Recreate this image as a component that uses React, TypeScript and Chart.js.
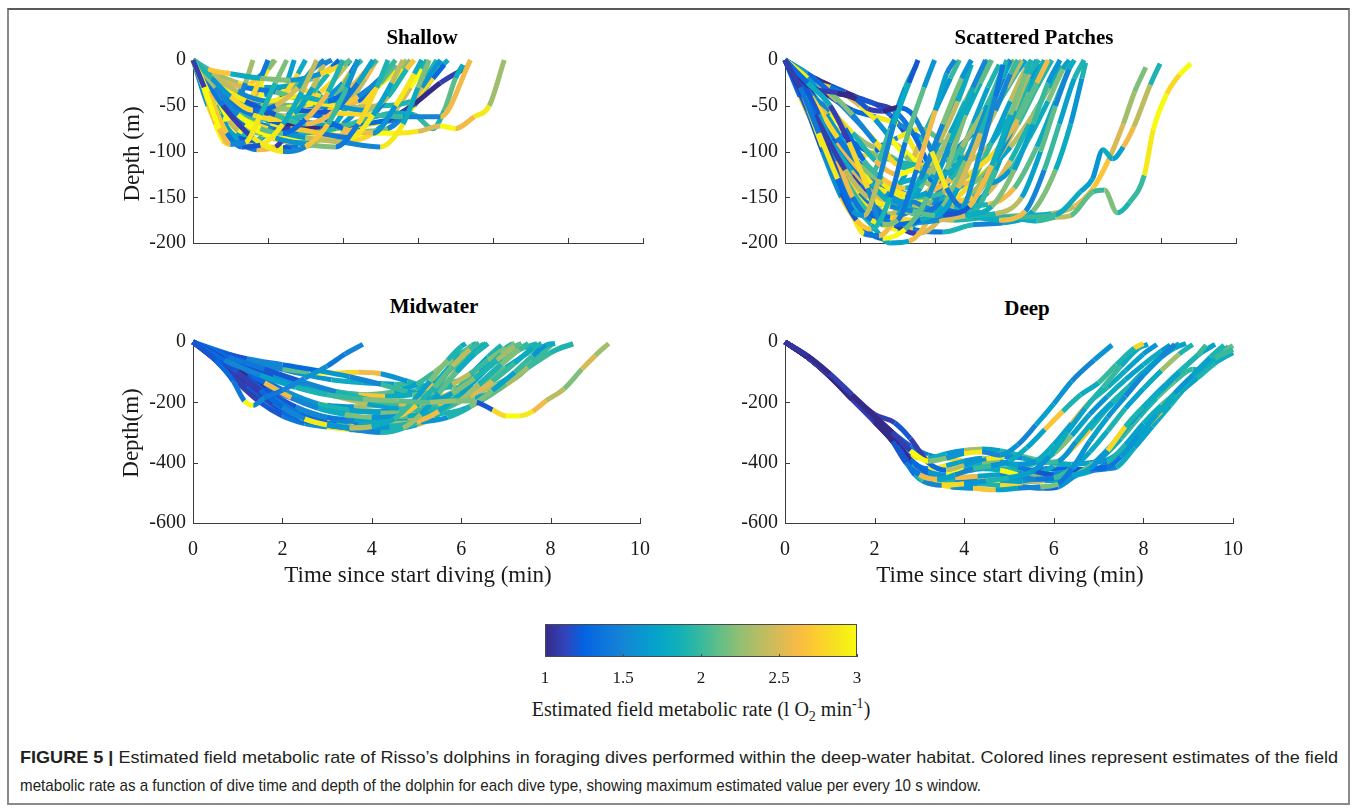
import React, { useEffect, useRef } from 'react';
import { Chart, registerables } from 'chart.js';

Chart.register(...registerables);

// ---------- colour map (parula) ----------
const PARULA: number[][] = [
  [53, 42, 135], [50, 67, 186], [3, 99, 225], [13, 117, 220], [20, 133, 212],
  [9, 152, 209], [6, 167, 198], [21, 177, 180], [56, 185, 158], [101, 190, 134],
  [146, 191, 115], [183, 189, 100], [217, 186, 86], [248, 187, 68], [252, 206, 46],
  [245, 228, 29], [249, 251, 14],
];
const RATE_MIN = 1;
const RATE_MAX = 3;
const colorbarTicks = [1, 1.5, 2, 2.5, 3];

function parula(v: number): string {
  const f = Math.max(0, Math.min(1, (v - RATE_MIN) / (RATE_MAX - RATE_MIN)));
  const p = f * (PARULA.length - 1);
  const i = Math.floor(p);
  const j = Math.min(i + 1, PARULA.length - 1);
  const k = p - i;
  const c = PARULA[i].map((a, n) => Math.round(a + (PARULA[j][n] - a) * k));
  return `rgb(${c[0]},${c[1]},${c[2]})`;
}

// ---------- data: each dive = [t0,d0,t1,d1,...]; rates = one value per segment ----------
const shallowDives: number[][] = [
  [0, 0, 0.15, -30, 0.35, -75, 0.5, -92, 0.7, -90, 0.9, -60, 1.1, -25, 1.25, 0],
  [0, 0, 0.2, -35, 0.45, -80, 0.65, -95, 0.9, -93, 1.2, -70, 1.45, -35, 1.65, 0],
  [0, 0, 0.25, -20, 0.5, -40, 0.8, -55, 1.1, -50, 1.4, -30, 1.6, -10, 1.75, 0],
  [0, 0, 0.3, -30, 0.6, -60, 0.9, -75, 1.2, -80, 1.5, -65, 1.8, -35, 2.0, 0],
  [0, 0, 0.4, -50, 0.8, -85, 1.2, -100, 1.5, -95, 1.8, -70, 2.05, -30, 2.2, 0],
  [0, 0, 0.2, -10, 0.5, -15, 0.9, -20, 1.3, -22, 1.7, -15, 2.0, -5, 2.1, 0],
  [0, 0, 0.3, -25, 0.7, -45, 1.1, -60, 1.5, -70, 1.9, -55, 2.2, -25, 2.4, 0],
  [0, 0, 0.35, -45, 0.7, -70, 1.1, -85, 1.5, -92, 1.9, -95, 2.2, -70, 2.45, -30, 2.6, 0],
  [0, 0, 0.5, -60, 0.9, -80, 1.3, -75, 1.7, -80, 2.1, -85, 2.4, -60, 2.65, -25, 2.8, 0],
  [0, 0, 0.25, -15, 0.6, -35, 1.0, -45, 1.4, -40, 1.8, -45, 2.1, -30, 2.35, -8, 2.45, 0],
  [0, 0, 0.4, -40, 0.8, -60, 1.2, -65, 1.6, -60, 2.0, -75, 2.4, -80, 2.7, -50, 2.95, -15, 3.05, 0],
  [0, 0, 0.5, -55, 1.0, -75, 1.5, -85, 2.0, -90, 2.5, -95, 2.8, -70, 3.0, -30, 3.15, 0],
  [0, 0, 0.15, -15, 0.35, -40, 0.55, -55, 0.75, -45, 0.9, -20, 1.0, 0],
  [0, 0, 0.1, -15, 0.25, -45, 0.4, -65, 0.55, -55, 0.7, -25, 0.8, 0],
  [0, 0, 0.3, -30, 0.6, -55, 1.0, -65, 1.35, -58, 1.6, -30, 1.75, -5, 1.85, 0],
  [0, 0, 0.3, -20, 0.7, -30, 1.1, -35, 1.5, -45, 1.9, -50, 2.3, -55, 2.6, -40, 2.85, -10, 2.95, 0],
  [0, 0, 0.4, -35, 0.9, -50, 1.4, -55, 1.9, -58, 2.4, -60, 2.8, -62, 3.3, -62, 3.7, 0],
  [0, 0, 0.3, -40, 0.7, -70, 1.2, -85, 1.7, -85, 2.2, -80, 2.7, -80, 3.0, -78, 3.3, -72, 3.5, -75, 3.75, -62, 3.95, -50, 4.15, 0],
  [0, 0, 0.4, -40, 0.9, -70, 1.4, -80, 1.9, -75, 2.3, -65, 2.7, -58, 2.95, -60, 3.2, -75, 3.35, -55, 3.5, -20, 3.6, -5],
  [0, 0, 0.3, -30, 0.7, -55, 1.2, -70, 1.7, -75, 2.2, -70, 2.6, -65, 2.95, -48, 3.3, -25, 3.65, -8],
  [0, 0, 0.5, -45, 1.0, -65, 1.5, -70, 2.0, -72, 2.5, -68, 2.8, -60, 3.05, -30, 3.3, 0],
  [0, 0, 0.2, -25, 0.45, -50, 0.7, -62, 0.95, -60, 1.2, -40, 1.4, -15, 1.5, 0],
  [0, 0, 0.35, -60, 0.6, -88, 0.85, -98, 1.1, -95, 1.35, -65, 1.6, -30, 1.75, 0],
  [0, 0, 0.25, -30, 0.55, -50, 0.9, -58, 1.25, -52, 1.6, -48, 1.9, -40, 2.1, -15, 2.2, 0],
  [0, 0, 0.45, -40, 0.9, -55, 1.35, -62, 1.8, -55, 2.2, -40, 2.5, -20, 2.7, 0],
  [0, 0, 0.3, -15, 0.6, -25, 0.95, -30, 1.3, -28, 1.6, -20, 1.85, -8, 1.95, 0],
  [0, 0, 0.45, -55, 0.9, -80, 1.35, -90, 1.8, -85, 2.2, -75, 2.55, -45, 2.8, -10, 2.9, 0],
  [0, 0, 0.2, -40, 0.4, -70, 0.6, -85, 0.85, -88, 1.05, -60, 1.25, -25, 1.35, 0],
  [0, 0, 0.5, -35, 1.0, -48, 1.5, -50, 2.0, -52, 2.5, -50, 2.9, -45, 3.2, -20, 3.35, -5],
  [0, 0, 0.35, -35, 0.75, -55, 1.2, -65, 1.7, -70, 2.2, -78, 2.6, -75, 2.9, -50, 3.1, -20, 3.25, 0],
  [0, 0, 0.1, -20, 0.2, -45, 0.3, -70, 0.4, -88, 0.5, -92, 0.62, -80, 0.75, -55, 0.88, -30, 1.0, -10, 1.08, 0],
  [0, 0, 0.15, -25, 0.3, -50, 0.45, -72, 0.6, -85, 0.8, -90, 1.0, -80, 1.2, -65, 1.4, -50, 1.6, -35, 1.8, -15, 1.95, 0],
  [0, 0, 0.2, -15, 0.4, -30, 0.6, -42, 0.8, -48, 1.0, -45, 1.2, -50, 1.4, -58, 1.6, -55, 1.8, -40, 2.0, -25, 2.15, -8, 2.25, 0],
  [0, 0, 0.25, -40, 0.5, -65, 0.75, -75, 1.0, -72, 1.25, -78, 1.5, -85, 1.75, -82, 2.0, -70, 2.25, -50, 2.5, -25, 2.7, -5],
  [0, 0, 0.2, -20, 0.45, -35, 0.7, -40, 0.95, -38, 1.2, -30, 1.45, -32, 1.7, -40, 1.95, -48, 2.2, -45, 2.45, -30, 2.7, -12, 2.85, 0],
  [0, 0, 0.2, -50, 0.4, -80, 0.6, -92, 0.8, -90, 1.0, -82, 1.2, -88, 1.4, -95, 1.6, -92, 1.85, -75, 2.1, -45, 2.3, -20, 2.45, 0],
  [0, 0, 0.3, -35, 0.6, -55, 0.9, -62, 1.2, -70, 1.5, -75, 1.8, -72, 2.1, -78, 2.4, -80, 2.7, -70, 2.95, -50, 3.15, -25, 3.3, -8, 3.4, 0],
  [0, 0, 0.1, -10, 0.25, -22, 0.4, -30, 0.55, -35, 0.7, -30, 0.85, -20, 1.0, -10, 1.1, 0],
  [0, 0, 0.3, -45, 0.6, -78, 0.9, -92, 1.2, -96, 1.5, -90, 1.8, -85, 2.1, -88, 2.4, -80, 2.7, -55, 2.9, -30, 3.05, -10, 3.12, 0],
  [0, 0, 0.15, -20, 0.3, -40, 0.5, -55, 0.7, -62, 0.9, -58, 1.1, -45, 1.3, -40, 1.5, -45, 1.7, -35, 1.9, -20, 2.05, -5, 2.1, 0],
];
const shallowRates: number[][] = [
  [1.1, 3, 2.6, 1.5, 2.9, 1.9, 2.2],
  [3, 2.7, 1.4, 1.2, 2.9, 1.8, 2.4],
  [1.9, 1.6, 2.8, 1.3, 2.5, 1.7, 1.5],
  [2.3, 1.5, 3, 2.1, 1.3, 2.6, 1.9],
  [1.4, 1.1, 2.9, 1.5, 2.7, 2.0, 1.6],
  [2.0, 2.7, 1.8, 2.2, 1.6, 2.8, 2.1],
  [1.5, 2.9, 1.2, 2.0, 2.6, 1.4, 1.7],
  [2.6, 1.3, 3, 1.6, 2.2, 1.4, 2.8, 1.9],
  [2.9, 2.2, 1.1, 2.7, 1.4, 2.9, 1.7, 2.4],
  [1.7, 2.4, 1.5, 2.9, 1.8, 1.3, 2.6, 2.0],
  [2.2, 1.4, 2.8, 1.9, 1.3, 2.6, 1.6, 2.9, 1.8],
  [1.2, 2.8, 1.6, 2.4, 1.5, 2.9, 1.8, 2.2],
  [3, 1.9, 2.5, 1.6, 2.8, 1.4],
  [1.0, 2.6, 1.8, 3, 1.5, 2.3],
  [2.5, 1.3, 2.0, 2.8, 1.7, 2.4, 1.5],
  [1.8, 2.5, 1.4, 2.1, 2.9, 1.6, 2.3, 1.9, 2.7],
  [2.7, 1.6, 2.3, 1.2, 2.8, 2.0, 1.5, 2.6],
  [2.4, 1.5, 2.9, 3, 2.6, 3, 2.9, 2.5, 3, 2.6, 2.9, 2.3],
  [1.6, 2.2, 1.4, 1.9, 2.0, 1.9, 1.8, 2.0, 1.9, 2.1, 1.8],
  [1.3, 1.1, 1.2, 1.0, 1.1, 1.3, 1.1, 1.0, 1.1],
  [2.8, 1.5, 2.2, 1.7, 2.9, 1.4, 2.5, 1.6],
  [1.3, 2.7, 1.9, 2.4, 1.2, 2.8, 1.8],
  [2.9, 1.7, 1.4, 2.6, 1.1, 2.2, 2.7],
  [1.9, 2.8, 1.5, 2.3, 2.9, 1.6, 2.1, 1.4],
  [2.6, 1.9, 2.4, 1.3, 2.7, 1.5, 2.0],
  [1.5, 2.3, 2.9, 1.7, 2.1, 2.6, 1.3],
  [2.1, 1.2, 2.7, 1.8, 2.5, 1.4, 2.9, 2.2],
  [2.8, 2.3, 1.6, 1.2, 2.0, 2.9, 1.7],
  [1.6, 2.9, 2.1, 1.5, 2.4, 1.9, 2.8, 1.3],
  [2.3, 1.8, 2.6, 1.4, 2.9, 2.2, 1.5, 2.7, 1.9],
  [3, 2.9, 2.6, 3, 2.8, 1.7, 3, 2.5, 2.9, 2.2],
  [1.3, 2.9, 1.8, 3, 2.4, 1.6, 2.9, 1.4, 2.7, 1.9, 3],
  [2.8, 2.2, 1.5, 3, 2.6, 1.9, 1.2, 2.9, 2.3, 1.6, 2.7, 2.0],
  [2.0, 3, 2.5, 1.4, 2.9, 1.8, 2.4, 3, 1.6, 2.8, 2.1],
  [2.9, 1.7, 2.4, 3, 1.5, 2.2, 2.8, 1.9, 2.6, 1.3, 2.9, 2.4],
  [1.6, 2.9, 3, 2.5, 1.8, 2.7, 1.4, 2.2, 2.9, 1.7, 2.4, 2.6],
  [2.5, 1.9, 2.9, 1.5, 2.3, 3, 1.7, 2.6, 1.3, 2.9, 2.0, 2.7, 1.8],
  [2.1, 1.6, 2.9, 2.3, 1.8, 2.7, 1.5, 2.4],
  [2.9, 2.4, 1.9, 3, 1.2, 2.6, 2.0, 2.8, 1.7, 2.5, 3, 1.9],
  [1.5, 2.3, 3, 1.8, 2.6, 1.2, 2.9, 2.1, 1.7, 2.8, 2.4, 1.6],
];

const scatteredDives: number[][] = [
  [0, 0, 0.2, -30, 0.45, -80, 0.7, -130, 0.9, -165, 1.05, -170, 1.25, -130, 1.45, -70, 1.65, -25, 1.77, 0],
  [0, 0, 0.25, -40, 0.5, -95, 0.75, -145, 0.95, -175, 1.15, -185, 1.4, -150, 1.6, -90, 1.85, -30, 1.99, 0],
  [0, 0, 0.3, -25, 0.6, -50, 0.85, -90, 1.1, -140, 1.3, -180, 1.5, -175, 1.75, -120, 2.0, -55, 2.15, -15, 2.26, 0],
  [0, 0, 0.35, -30, 0.7, -36, 0.95, -43, 1.1, -53, 1.3, -56, 1.5, -52, 1.7, -60, 1.95, -100, 2.15, -140, 2.35, -160, 2.6, -100, 2.8, -40, 2.9, -5],
  [0, 0, 0.3, -55, 0.6, -110, 0.85, -160, 1.05, -190, 1.25, -192, 1.5, -170, 1.8, -130, 2.1, -70, 2.35, -20, 2.48, 0],
  [0, 0, 0.25, -45, 0.5, -100, 0.75, -150, 1.0, -180, 1.3, -195, 1.6, -185, 1.9, -150, 2.2, -90, 2.5, -30, 2.67, 0],
  [0, 0, 0.3, -20, 0.55, -45, 0.8, -75, 1.05, -110, 1.3, -130, 1.6, -140, 1.9, -125, 2.2, -80, 2.5, -35, 2.7, 0],
  [0, 0, 0.4, -60, 0.8, -120, 1.1, -150, 1.4, -160, 1.7, -165, 2.0, -170, 2.3, -140, 2.6, -80, 2.85, -25, 2.95, 0],
  [0, 0, 0.2, -20, 0.45, -60, 0.7, -110, 0.9, -150, 1.15, -175, 1.45, -180, 1.8, -175, 2.1, -160, 2.4, -110, 2.7, -50, 2.9, -10, 3.0, 0],
  [0, 0, 0.35, -40, 0.7, -85, 1.0, -115, 1.3, -135, 1.6, -150, 1.9, -145, 2.2, -130, 2.5, -100, 2.8, -55, 3.0, -15, 3.1, 0],
  [0, 0, 0.3, -35, 0.6, -55, 0.9, -80, 1.2, -110, 1.5, -125, 1.8, -118, 2.1, -125, 2.4, -105, 2.7, -70, 2.95, -30, 3.15, 0],
  [0, 0, 0.45, -70, 0.8, -130, 1.1, -165, 1.4, -172, 1.75, -175, 2.1, -170, 2.45, -160, 2.75, -115, 3.0, -60, 3.2, -15, 3.28, 0],
  [0, 0, 0.25, -30, 0.55, -60, 0.85, -100, 1.15, -135, 1.45, -160, 1.8, -168, 2.15, -155, 2.5, -150, 2.8, -110, 3.05, -55, 3.25, -15, 3.38, 0],
  [0, 0, 0.35, -45, 0.7, -90, 1.05, -125, 1.4, -140, 1.75, -150, 2.1, -145, 2.45, -125, 2.8, -100, 3.1, -65, 3.35, -25, 3.5, 0],
  [0, 0, 0.3, -50, 0.65, -100, 1.0, -145, 1.35, -170, 1.7, -178, 2.05, -175, 2.4, -170, 2.75, -160, 3.05, -120, 3.3, -70, 3.5, -25, 3.66, 0],
  [0, 0, 0.4, -50, 0.8, -95, 1.2, -130, 1.6, -150, 2.0, -165, 2.4, -170, 2.8, -168, 3.15, -150, 3.4, -100, 3.6, -50, 3.78, -10, 3.85, 0],
  [0, 0, 0.3, -40, 0.65, -85, 1.0, -120, 1.35, -145, 1.7, -158, 2.05, -162, 2.45, -170, 2.85, -175, 3.2, -165, 3.45, -120, 3.65, -70, 3.85, -20, 3.98, 0],
  [0, 0, 0.4, -45, 0.8, -100, 1.2, -140, 1.6, -160, 2.0, -168, 2.4, -165, 3.0, -172, 3.6, -169, 3.93, -144, 4.09, -130, 4.23, -98, 4.36, -108, 4.5, -95, 4.64, -73, 4.86, -27, 4.99, -4],
  [0, 0, 0.35, -40, 0.7, -90, 1.05, -130, 1.4, -155, 1.8, -165, 2.2, -172, 2.6, -170, 3.0, -172, 3.35, -176, 3.6, -172, 3.8, -170, 4.1, -144, 4.25, -142, 4.42, -167, 4.58, -156, 4.78, -126, 4.9, -76, 5.08, -37, 5.25, -16, 5.4, -4],
  [0, 0, 0.45, -60, 0.9, -120, 1.35, -155, 1.8, -170, 2.25, -175, 2.7, -172, 3.15, -170, 3.55, -168, 3.85, -160, 4.1, -140, 4.3, -110, 4.5, -70, 4.65, -35, 4.8, -8],
  [0, 0, 0.15, -20, 0.35, -55, 0.55, -90, 0.75, -120, 0.95, -140, 1.2, -120, 1.4, -75, 1.6, -30, 1.75, -5],
  [0, 0, 0.3, -15, 0.6, -35, 0.9, -60, 1.2, -90, 1.5, -115, 1.8, -120, 2.05, -90, 2.3, -45, 2.48, -5],
  [0, 0, 0.35, -60, 0.65, -115, 0.9, -155, 1.15, -180, 1.4, -200, 1.65, -198, 1.9, -175, 2.15, -120, 2.4, -60, 2.6, -15, 2.7, 0],
  [0, 0, 0.3, -45, 0.6, -95, 0.9, -140, 1.15, -165, 1.45, -180, 1.75, -190, 2.05, -175, 2.35, -130, 2.65, -70, 2.9, -20, 3.0, 0],
  [0, 0, 0.25, -35, 0.55, -70, 0.85, -105, 1.15, -125, 1.45, -140, 1.75, -150, 2.05, -130, 2.35, -95, 2.65, -55, 2.9, -15, 3.05, 0],
  [0, 0, 0.4, -50, 0.75, -80, 1.1, -100, 1.45, -110, 1.8, -115, 2.15, -105, 2.5, -80, 2.85, -45, 3.1, -12, 3.2, 0],
  [0, 0, 0.3, -30, 0.65, -75, 1.0, -120, 1.3, -150, 1.6, -160, 1.95, -150, 2.3, -155, 2.65, -130, 3.0, -80, 3.25, -35, 3.45, 0],
  [0, 0, 0.35, -20, 0.7, -45, 1.05, -75, 1.4, -105, 1.75, -120, 2.1, -130, 2.45, -135, 2.8, -110, 3.1, -70, 3.35, -30, 3.55, 0],
  [0, 0, 0.25, -25, 0.55, -65, 0.85, -110, 1.15, -145, 1.5, -162, 1.85, -168, 2.25, -160, 2.7, -158, 3.05, -140, 3.35, -95, 3.6, -45, 3.8, -5],
  [0, 0, 0.45, -65, 0.9, -125, 1.3, -170, 1.7, -185, 2.1, -188, 2.5, -180, 2.9, -178, 3.3, -165, 3.6, -120, 3.8, -70, 3.95, -20, 4.0, -3],
  [0, 0, 0.3, -25, 0.6, -35, 0.9, -40, 1.2, -48, 1.45, -55, 1.7, -80, 1.95, -120, 2.2, -150, 2.5, -165, 2.8, -120, 3.05, -65, 3.25, -20, 3.35, 0],
  [0, 0, 0.2, -35, 0.45, -85, 0.7, -135, 0.95, -165, 1.2, -170, 1.5, -165, 1.8, -140, 2.05, -90, 2.3, -40, 2.45, -5],
  [0, 0, 0.2, -15, 0.4, -25, 0.6, -30, 0.8, -38, 1.0, -50, 1.2, -65, 1.4, -85, 1.6, -105, 1.8, -120, 2.0, -110, 2.2, -80, 2.4, -45, 2.6, -15, 2.7, 0],
  [0, 0, 0.2, -25, 0.4, -50, 0.6, -75, 0.8, -95, 1.0, -105, 1.2, -100, 1.4, -90, 1.6, -100, 1.8, -115, 2.0, -120, 2.2, -95, 2.4, -60, 2.6, -25, 2.75, 0],
  [0, 0, 0.25, -35, 0.5, -70, 0.75, -100, 1.0, -125, 1.25, -140, 1.5, -135, 1.75, -130, 2.0, -140, 2.25, -150, 2.5, -130, 2.75, -90, 3.0, -45, 3.2, -10, 3.28, 0],
  [0, 0, 0.3, -30, 0.6, -60, 0.9, -80, 1.2, -95, 1.5, -85, 1.8, -75, 2.1, -90, 2.4, -110, 2.7, -95, 2.95, -65, 3.2, -30, 3.4, -5],
  [0, 0, 0.2, -40, 0.4, -75, 0.6, -105, 0.8, -130, 1.0, -150, 1.2, -160, 1.4, -150, 1.6, -125, 1.8, -90, 2.0, -55, 2.2, -20, 2.32, 0],
  [0, 0, 0.3, -20, 0.6, -40, 0.9, -55, 1.2, -62, 1.5, -70, 1.8, -85, 2.1, -105, 2.4, -125, 2.7, -135, 3.0, -120, 3.25, -85, 3.5, -45, 3.7, -10, 3.78, 0],
  [0, 0, 0.25, -45, 0.5, -90, 0.75, -130, 1.0, -160, 1.25, -178, 1.5, -185, 1.75, -178, 2.0, -160, 2.25, -120, 2.5, -70, 2.7, -30, 2.85, -5],
  [0, 0, 0.3, -50, 0.6, -95, 0.9, -135, 1.2, -160, 1.5, -170, 1.8, -160, 2.1, -150, 2.4, -155, 2.7, -145, 3.0, -110, 3.25, -70, 3.5, -30, 3.65, -5],
  [0, 0, 0.2, -10, 0.4, -20, 0.6, -28, 0.8, -35, 1.0, -42, 1.2, -48, 1.4, -60, 1.6, -80, 1.8, -110, 2.0, -140, 2.2, -160, 2.45, -165, 2.7, -140, 2.95, -90, 3.2, -40, 3.4, -5],
  [0, 0, 0.3, -40, 0.6, -80, 0.9, -115, 1.2, -140, 1.5, -155, 1.8, -158, 2.1, -150, 2.4, -135, 2.7, -120, 3.0, -95, 3.3, -60, 3.55, -25, 3.75, -3],
];
const scatteredRates: number[][] = [
  [1.1, 1.4, 2.9, 1.3, 1.6, 2.4, 1.5, 1.8, 1.2],
  [1.0, 2.9, 1.5, 1.2, 2.7, 1.9, 1.4, 2.1, 1.6],
  [1.3, 1.8, 1.1, 2.8, 1.5, 2.2, 1.4, 2.6, 1.7, 1.5, 2.0],
  [1.0, 1.1, 1.0, 1.2, 1.1, 1.0, 1.3, 1.5, 2.9, 1.4, 1.6, 1.5, 1.4],
  [1.2, 1.5, 1.1, 2.9, 1.4, 2.6, 1.8, 1.5, 2.2, 1.6],
  [1.4, 1.2, 1.6, 2.8, 1.3, 3.0, 2.1, 1.6, 1.8, 1.5],
  [2.9, 1.6, 2.5, 1.3, 2.0, 2.7, 1.9, 2.3, 1.7, 2.1],
  [1.3, 1.1, 2.4, 2.9, 1.5, 2.1, 1.7, 2.5, 1.9],
  [1.5, 1.2, 1.7, 2.6, 1.4, 2.9, 1.3, 1.8, 2.2, 1.6, 2.0, 1.5],
  [1.6, 2.8, 1.4, 2.2, 2.9, 1.7, 2.6, 1.9, 2.4, 1.5, 2.0, 1.8],
  [1.2, 1.5, 2.9, 1.9, 2.6, 3.0, 2.3, 1.8, 2.7, 2.0, 2.4, 1.7],
  [1.4, 1.1, 2.0, 1.3, 2.8, 1.5, 1.2, 2.6, 1.8, 2.2, 1.9, 1.6],
  [1.3, 2.5, 1.6, 2.9, 1.8, 2.2, 1.4, 2.7, 2.0, 1.7, 2.3, 1.9, 1.5],
  [1.7, 1.3, 2.6, 1.5, 2.9, 2.0, 2.4, 2.8, 2.5, 2.1, 2.6, 2.2],
  [1.5, 1.2, 2.8, 1.4, 2.1, 1.6, 2.5, 1.8, 2.2, 1.7, 2.0, 1.6, 1.9],
  [1.2, 1.6, 1.3, 2.7, 1.5, 1.2, 1.9, 2.4, 1.7, 2.1, 1.5, 1.8, 1.6],
  [1.4, 1.9, 1.2, 2.9, 1.6, 2.4, 1.3, 1.8, 2.6, 1.5, 2.0, 1.7, 1.9, 1.5],
  [1.3, 1.5, 1.2, 1.6, 1.8, 1.7, 1.9, 2.0, 1.8, 1.7, 1.6, 1.8, 1.7, 2.6, 2.4, 1.9],
  [1.6, 2.9, 1.4, 2.1, 1.7, 1.9, 2.0, 2.3, 1.8, 2.0, 2.4, 2.1, 2.0, 2.2, 1.9, 2.0, 2.9, 3.0, 2.8, 3.0],
  [1.2, 1.8, 2.5, 1.6, 2.3, 1.9, 2.1, 1.8, 2.4, 2.6, 2.7, 2.5, 2.3, 2.2],
  [1.1, 2.9, 1.4, 1.7, 2.6, 1.3, 2.0, 1.6, 1.9],
  [1.7, 1.3, 2.2, 1.5, 2.8, 1.9, 1.6, 2.4, 1.8],
  [1.2, 1.6, 1.4, 1.9, 1.8, 1.7, 2.6, 1.5, 2.2, 1.8, 2.0],
  [1.0, 1.5, 1.2, 2.9, 1.4, 1.1, 2.5, 1.6, 1.9, 1.4, 1.7],
  [2.9, 1.6, 3.0, 1.8, 2.5, 1.4, 2.7, 2.0, 2.3, 1.9, 2.2],
  [1.5, 2.7, 1.3, 2.2, 1.9, 2.8, 1.6, 2.4, 2.0, 1.7],
  [1.3, 1.1, 1.7, 2.5, 1.4, 2.9, 1.8, 2.3, 1.6, 2.1, 1.8],
  [1.8, 2.4, 1.5, 2.9, 2.1, 1.7, 2.6, 2.2, 2.5, 2.0, 1.9],
  [1.4, 1.2, 1.8, 1.5, 2.7, 1.6, 2.3, 1.9, 2.6, 2.1, 1.8, 2.0],
  [1.2, 1.6, 1.1, 2.6, 1.4, 1.9, 1.5, 1.7, 2.2, 1.8, 1.6, 1.9, 1.7],
  [1.0, 1.1, 1.0, 1.2, 1.1, 1.4, 1.3, 2.8, 1.5, 2.0, 1.7, 1.9, 1.6],
  [1.1, 1.3, 2.9, 1.5, 1.2, 2.4, 1.7, 2.1, 1.6, 1.9],
  [2.9, 3, 2.7, 1.4, 2.5, 2.9, 1.6, 3, 2.2, 1.8, 2.6, 1.9, 2.4, 1.7],
  [3, 2.6, 1.5, 2.9, 1.9, 2.8, 1.3, 2.4, 3, 1.7, 2.2, 2.7, 1.8, 2.1],
  [1.2, 1.5, 2.9, 1.4, 2.6, 3, 1.8, 2.3, 1.6, 2.8, 2.0, 1.7, 2.4, 1.9],
  [2.6, 1.9, 3, 2.3, 1.5, 2.9, 2.1, 1.7, 2.5, 1.8, 2.2, 1.6],
  [1.3, 2.8, 1.1, 1.6, 2.9, 1.4, 2.2, 1.7, 2.5, 1.9, 1.6, 2.0],
  [1.1, 1.0, 1.2, 1.3, 2.9, 1.5, 2.4, 1.7, 3, 1.6, 2.0, 1.8, 2.2, 1.7],
  [1.4, 1.1, 1.3, 2.7, 1.5, 3, 1.8, 2.4, 1.6, 2.0, 1.7, 1.9],
  [2.9, 1.3, 1.6, 1.2, 2.8, 1.5, 2.2, 3, 1.7, 2.5, 1.9, 2.3, 1.8],
  [1.0, 1.1, 1.0, 1.2, 1.0, 1.1, 1.3, 1.2, 2.9, 1.4, 1.6, 2.3, 1.5, 1.8, 1.6, 1.7],
  [1.6, 2.9, 1.4, 2.2, 1.8, 2.6, 1.5, 2.0, 2.9, 1.7, 2.4, 1.9, 2.1],
];

const midwaterDives: number[][] = [
  [0, 0, 0.5, -60, 0.9, -130, 1.15, -195, 1.35, -210, 1.6, -185, 2.0, -160, 2.5, -120, 3.0, -80, 3.4, -40, 3.8, -8],
  [0, 0, 0.7, -60, 1.5, -110, 2.3, -150, 3.0, -175, 3.8, -190, 4.6, -195, 5.3, -200, 5.9, -195, 6.35, -200, 6.7, -225, 7.0, -245, 7.3, -245, 7.6, -230, 7.9, -195, 8.3, -155, 8.7, -90, 9.0, -45, 9.3, -5],
  [0, 0, 0.5, -45, 1.0, -100, 1.5, -160, 2.0, -215, 2.5, -255, 3.0, -275, 3.5, -285, 4.0, -280, 4.5, -255, 4.9, -200, 5.3, -130, 5.7, -60, 6.0, -15, 6.1, -5],
  [0, 0, 0.6, -50, 1.2, -115, 1.8, -185, 2.4, -240, 3.0, -270, 3.6, -290, 4.2, -300, 4.7, -285, 5.1, -240, 5.5, -170, 5.9, -100, 6.3, -40, 6.6, -5],
  [0, 0, 0.5, -40, 1.0, -85, 1.6, -135, 2.2, -185, 2.8, -220, 3.4, -240, 4.0, -250, 4.6, -245, 5.0, -210, 5.4, -150, 5.8, -80, 6.2, -25, 6.4, -5],
  [0, 0, 0.8, -50, 1.6, -90, 2.4, -130, 3.2, -165, 3.9, -190, 4.6, -205, 5.3, -200, 5.8, -170, 6.3, -120, 6.8, -60, 7.2, -15, 7.35, -5],
  [0, 0, 0.7, -70, 1.4, -150, 2.0, -210, 2.6, -255, 3.2, -275, 3.8, -285, 4.4, -280, 5.0, -265, 5.5, -230, 6.0, -170, 6.5, -100, 6.9, -40, 7.2, -5],
  [0, 0, 0.6, -55, 1.2, -130, 1.8, -200, 2.4, -250, 3.0, -270, 3.6, -260, 4.2, -250, 4.8, -245, 5.4, -235, 5.9, -200, 6.4, -140, 6.9, -75, 7.3, -25, 7.5, -5],
  [0, 0, 0.5, -35, 1.1, -70, 1.8, -110, 2.5, -150, 3.2, -180, 3.9, -205, 4.6, -220, 5.2, -225, 5.7, -215, 6.2, -180, 6.7, -130, 7.2, -70, 7.6, -20, 7.8, -5],
  [0, 0, 0.8, -70, 1.6, -155, 2.3, -215, 3.0, -250, 3.7, -265, 4.4, -270, 5.1, -265, 5.7, -250, 6.2, -215, 6.7, -160, 7.2, -100, 7.6, -45, 7.9, -10, 8.1, -5],
  [0, 0, 0.6, -60, 1.3, -140, 2.0, -200, 2.7, -240, 3.4, -255, 4.1, -255, 4.8, -250, 5.4, -240, 6.0, -225, 6.5, -190, 7.0, -140, 7.5, -85, 8.0, -35, 8.5, -5],
  [0, 0, 0.7, -45, 1.5, -90, 2.3, -130, 3.0, -160, 3.7, -175, 4.3, -180, 4.9, -175, 5.4, -165, 5.8, -140, 6.2, -105, 6.6, -60, 7.0, -20, 7.2, -5],
  [0, 0, 0.5, -30, 1.2, -55, 2.0, -75, 2.8, -95, 3.5, -115, 4.2, -140, 4.8, -165, 5.3, -180, 5.8, -190, 6.3, -185, 6.8, -160, 7.2, -120, 7.6, -70, 7.9, -25, 8.05, -5],
  [0, 0, 0.6, -70, 1.2, -145, 1.8, -205, 2.4, -245, 3.0, -260, 3.6, -270, 4.2, -265, 4.7, -250, 5.1, -210, 5.4, -160, 5.7, -100, 6.0, -45, 6.25, -10, 6.35, -5],
  [0, 0, 0.5, -50, 1.0, -110, 1.5, -175, 2.0, -230, 2.6, -265, 3.2, -280, 3.8, -290, 4.4, -285, 5.0, -270, 5.4, -235, 5.8, -175, 6.2, -110, 6.6, -50, 6.9, -10],
  [0, 0, 0.7, -55, 1.4, -110, 2.1, -165, 2.8, -205, 3.5, -225, 4.2, -235, 4.9, -230, 5.5, -215, 6.0, -185, 6.5, -140, 7.0, -85, 7.5, -35, 7.75, -8],
  [0, 0, 0.6, -40, 1.2, -80, 1.8, -120, 2.5, -150, 3.2, -165, 3.9, -175, 4.5, -165, 5.0, -140, 5.4, -100, 5.8, -55, 6.2, -20, 6.4, -5],
  [0, 0, 0.55, -60, 1.1, -125, 1.7, -190, 2.3, -235, 2.9, -255, 3.5, -262, 4.1, -255, 4.6, -235, 5.0, -195, 5.4, -140, 5.75, -80, 6.1, -30, 6.3, -8],
  [0, 0, 0.6, -40, 1.3, -70, 2.0, -90, 2.6, -100, 3.2, -103, 3.7, -100, 4.2, -105, 4.8, -130, 5.3, -150, 5.9, -130, 6.4, -95, 6.9, -55, 7.4, -20, 7.7, -5],
  [0, 0, 0.7, -60, 1.4, -125, 2.1, -180, 2.8, -215, 3.5, -230, 4.2, -230, 4.9, -220, 5.6, -200, 6.2, -175, 6.8, -140, 7.3, -100, 7.8, -55, 8.2, -20, 8.5, -8],
  [0, 0, 0.5, -55, 1.0, -120, 1.5, -180, 2.0, -225, 2.5, -255, 3.0, -270, 3.6, -275, 4.2, -268, 4.7, -250, 5.1, -215, 5.5, -160, 5.9, -95, 6.3, -35, 6.55, -8],
  [0, 0, 0.8, -40, 1.6, -75, 2.4, -105, 3.1, -125, 3.8, -135, 4.5, -140, 5.2, -145, 5.8, -150, 6.4, -155, 6.9, -145, 7.3, -110, 7.6, -65, 7.85, -20, 8.0, -5],
  [0, 0, 0.5, -50, 1.0, -110, 1.5, -170, 2.0, -220, 2.5, -250, 3.0, -262, 3.5, -270, 4.0, -272, 4.5, -268, 5.0, -255, 5.5, -230, 6.0, -190, 6.4, -140, 6.8, -85, 7.2, -35, 7.5, -5],
  [0, 0, 0.6, -45, 1.2, -100, 1.8, -150, 2.4, -190, 3.0, -210, 3.6, -215, 4.2, -210, 4.8, -205, 5.4, -190, 5.9, -160, 6.3, -120, 6.7, -75, 7.1, -30, 7.35, -5],
  [0, 0, 0.5, -60, 1.0, -135, 1.5, -200, 2.0, -245, 2.5, -270, 3.0, -282, 3.5, -290, 4.0, -295, 4.5, -290, 5.0, -275, 5.4, -250, 5.8, -200, 6.2, -140, 6.6, -75, 7.0, -20, 7.15, -5],
  [0, 0, 0.4, -30, 0.9, -60, 1.5, -95, 2.1, -125, 2.7, -150, 3.3, -170, 3.9, -180, 4.5, -175, 5.0, -160, 5.4, -130, 5.8, -90, 6.1, -50, 6.4, -15, 6.55, -5],
];
const midwaterRates: number[][] = [
  [1.2, 1.3, 1.4, 3.0, 1.5, 1.4, 1.5, 1.6, 1.4, 1.5],
  [1.3, 1.5, 1.7, 1.9, 2.0, 2.2, 2.1, 2.3, 2.2, 1.2, 2.8, 3.0, 2.9, 2.6, 2.4, 2.2, 2.5, 2.3],
  [1.0, 1.2, 1.1, 1.3, 1.5, 2.9, 1.6, 2.4, 1.8, 2.0, 1.7, 2.2, 1.9, 1.8],
  [1.1, 1.0, 1.2, 1.4, 1.3, 1.6, 1.5, 1.9, 2.3, 1.7, 2.1, 1.8, 1.9],
  [1.2, 1.1, 1.3, 2.6, 1.5, 1.8, 2.2, 1.6, 2.7, 1.9, 2.1, 2.4, 2.0],
  [1.3, 1.4, 1.2, 1.5, 1.9, 2.0, 2.5, 1.7, 2.2, 1.9, 2.3, 2.1, 2.0],
  [1.0, 1.1, 1.0, 1.3, 1.2, 2.0, 1.6, 1.9, 2.6, 1.8, 1.7, 1.9, 2.2, 1.8],
  [1.2, 1.0, 1.1, 1.4, 2.9, 1.5, 1.7, 2.1, 1.8, 2.0, 2.3, 1.9, 2.2, 2.0],
  [1.4, 1.3, 1.2, 1.6, 1.8, 2.4, 1.7, 2.0, 1.9, 2.2, 2.5, 2.0, 1.8, 1.9],
  [1.1, 1.0, 1.2, 1.5, 1.4, 1.8, 2.3, 1.6, 1.9, 2.2, 1.7, 2.0, 1.6, 1.8],
  [1.2, 1.1, 1.3, 1.7, 1.6, 2.0, 1.8, 2.5, 1.9, 1.7, 2.1, 2.3, 2.0, 1.9],
  [1.3, 1.2, 1.5, 1.4, 2.0, 2.7, 1.8, 2.1, 1.9, 2.4, 2.0, 2.2, 1.9],
  [1.4, 1.2, 1.5, 1.3, 1.6, 1.5, 2.0, 1.7, 1.9, 2.2, 1.8, 2.6, 2.1, 2.0],
  [1.0, 1.1, 1.2, 1.1, 1.4, 2.7, 1.6, 1.9, 2.2, 1.7, 2.0, 1.8, 2.1, 1.9],
  [1.1, 1.0, 1.1, 1.2, 1.3, 1.5, 2.8, 1.6, 1.9, 1.8, 2.4, 2.0, 1.7, 1.9],
  [1.3, 1.2, 1.4, 1.6, 1.9, 1.7, 2.2, 2.0, 2.8, 1.9, 2.1, 1.8, 2.0],
  [1.5, 1.3, 1.6, 2.9, 3.0, 1.9, 2.1, 1.7, 2.0, 2.3, 1.9, 1.8],
  [1.1, 1.2, 1.0, 1.3, 1.5, 1.4, 2.9, 1.7, 2.0, 2.6, 1.8, 2.1, 1.9],
  [1.3, 1.4, 1.5, 2.1, 3.0, 2.8, 2.6, 1.6, 1.9, 2.0, 2.3, 1.8, 2.1, 1.9],
  [1.2, 1.1, 1.3, 1.2, 1.6, 1.8, 1.5, 2.0, 1.9, 2.4, 2.1, 1.8, 2.2, 2.0],
  [1.0, 1.1, 1.0, 1.2, 1.3, 1.5, 1.4, 2.9, 1.7, 2.0, 1.8, 2.2, 1.9, 1.7],
  [1.4, 1.3, 1.5, 1.6, 1.8, 1.7, 2.0, 1.9, 2.2, 2.0, 2.4, 2.1, 1.9, 2.3],
  [1.0, 1.1, 1.2, 1.1, 1.3, 2.9, 1.5, 1.7, 2.6, 1.8, 2.0, 1.6, 2.2, 1.9, 2.1, 1.8],
  [1.2, 1.3, 1.5, 1.4, 2.8, 1.6, 2.3, 1.9, 1.7, 2.5, 2.0, 1.8, 2.2, 2.0],
  [1.1, 1.0, 1.1, 1.2, 1.4, 1.6, 2.9, 1.5, 2.0, 1.7, 2.4, 1.9, 1.8, 2.1, 1.9, 2.0],
  [1.3, 1.2, 1.4, 1.3, 1.6, 1.8, 2.2, 1.7, 2.0, 1.9, 2.6, 2.1, 1.8, 2.0],
];

const deepDives: number[][] = [
  [0, 0, 0.5, -45, 1.0, -105, 1.5, -175, 2.0, -245, 2.4, -300, 2.8, -360, 3.2, -395, 3.6, -385, 4.0, -370, 4.4, -365, 4.8, -375, 5.2, -340, 5.6, -275, 6.0, -205, 6.4, -130, 6.9, -60, 7.3, -10],
  [0, 0, 0.5, -50, 1.0, -110, 1.5, -180, 2.0, -255, 2.4, -330, 2.7, -400, 3.0, -440, 3.4, -455, 3.8, -440, 4.2, -420, 4.6, -410, 5.0, -395, 5.4, -350, 5.8, -290, 6.2, -230, 6.6, -175, 7.0, -135, 7.4, -75, 7.8, -20, 8.0, -5],
  [0, 0, 0.5, -50, 1.0, -115, 1.5, -190, 2.0, -265, 2.5, -345, 2.8, -410, 3.1, -460, 3.5, -475, 4.0, -470, 4.5, -460, 5.0, -450, 5.5, -430, 5.9, -380, 6.3, -300, 6.7, -220, 7.1, -150, 7.5, -80, 7.9, -20, 8.1, -8],
  [0, 0, 0.5, -48, 1.0, -110, 1.5, -185, 2.0, -258, 2.4, -320, 2.8, -390, 3.2, -430, 3.6, -440, 4.0, -425, 4.4, -405, 4.8, -400, 5.2, -405, 5.6, -395, 6.0, -340, 6.4, -270, 6.8, -200, 7.2, -150, 7.6, -95, 8.0, -40, 8.3, -8],
  [0, 0, 0.5, -50, 1.0, -112, 1.5, -188, 2.0, -262, 2.5, -340, 2.9, -420, 3.3, -465, 3.7, -480, 4.2, -485, 4.7, -490, 5.2, -485, 5.7, -480, 6.1, -470, 6.4, -420, 6.8, -330, 7.2, -250, 7.6, -180, 8.0, -110, 8.4, -50, 8.7, -8],
  [0, 0, 0.5, -47, 1.0, -108, 1.5, -180, 2.0, -240, 2.45, -268, 2.8, -320, 3.2, -400, 3.6, -425, 4.0, -410, 4.5, -390, 4.9, -380, 5.3, -385, 5.7, -400, 6.1, -395, 6.5, -330, 6.9, -260, 7.3, -200, 7.7, -145, 8.1, -90, 8.5, -35, 8.8, -5],
  [0, 0, 0.5, -50, 1.0, -113, 1.5, -190, 2.0, -262, 2.5, -345, 2.9, -425, 3.2, -450, 3.6, -445, 4.0, -430, 4.4, -420, 4.8, -425, 5.2, -440, 5.6, -455, 6.0, -450, 6.4, -420, 6.8, -365, 7.2, -295, 7.6, -220, 8.0, -155, 8.4, -95, 8.8, -40, 9.1, -8],
  [0, 0, 0.5, -49, 1.0, -110, 1.5, -186, 2.0, -258, 2.5, -335, 2.8, -395, 3.2, -420, 3.6, -410, 4.0, -395, 4.4, -385, 4.8, -395, 5.2, -415, 5.6, -430, 6.0, -440, 6.4, -440, 6.8, -420, 7.2, -360, 7.6, -280, 8.0, -215, 8.4, -160, 8.8, -100, 9.2, -45, 9.4, -10],
  [0, 0, 0.5, -50, 1.0, -112, 1.5, -187, 2.0, -260, 2.5, -340, 2.9, -430, 3.3, -470, 3.8, -475, 4.3, -470, 4.8, -475, 5.3, -480, 5.8, -485, 6.1, -480, 6.5, -440, 6.9, -400, 7.3, -340, 7.7, -270, 8.1, -200, 8.5, -140, 8.9, -85, 9.3, -35, 9.6, -8],
  [0, 0, 0.5, -48, 1.0, -109, 1.5, -182, 2.0, -252, 2.5, -330, 2.9, -415, 3.3, -445, 3.8, -450, 4.3, -445, 4.8, -440, 5.3, -445, 5.8, -440, 6.3, -430, 6.8, -420, 7.2, -415, 7.5, -380, 7.9, -310, 8.3, -240, 8.7, -170, 9.1, -110, 9.5, -50, 9.8, -10],
  [0, 0, 0.5, -51, 1.0, -115, 1.5, -190, 2.0, -265, 2.5, -345, 2.9, -420, 3.3, -455, 3.8, -460, 4.3, -450, 4.8, -470, 5.3, -460, 5.8, -450, 6.3, -445, 6.8, -430, 7.2, -400, 7.6, -340, 8.0, -270, 8.4, -210, 8.8, -160, 9.2, -100, 9.6, -55, 10.0, -25],
  [0, 0, 0.5, -50, 1.0, -112, 1.5, -185, 2.0, -255, 2.5, -335, 2.8, -380, 3.2, -385, 3.6, -370, 4.0, -360, 4.4, -355, 4.8, -360, 5.2, -375, 5.6, -390, 6.0, -400, 6.4, -405, 6.8, -400, 7.2, -390, 7.6, -350, 8.0, -290, 8.4, -230, 8.8, -170, 9.2, -120, 9.6, -70, 10.0, -35],
  [0, 0, 0.5, -48, 1.0, -110, 1.5, -183, 2.0, -250, 2.4, -300, 2.8, -345, 3.2, -375, 3.6, -385, 4.0, -395, 4.4, -410, 4.8, -420, 5.2, -420, 5.6, -400, 6.0, -370, 6.4, -310, 6.8, -240, 7.2, -180, 7.6, -125, 8.0, -75, 8.4, -30, 8.6, -10],
  [0, 0, 0.5, -50, 1.0, -112, 1.5, -188, 2.0, -262, 2.5, -345, 2.9, -440, 3.3, -470, 3.8, -465, 4.3, -460, 4.8, -455, 5.2, -450, 5.6, -440, 6.0, -410, 6.4, -355, 6.8, -290, 7.2, -220, 7.6, -160, 8.0, -100, 8.4, -50, 8.7, -20, 8.95, -5],
  [0, 0, 0.5, -49, 1.0, -110, 1.5, -185, 2.0, -255, 2.5, -340, 2.9, -430, 3.3, -465, 3.8, -470, 4.3, -465, 4.8, -470, 5.3, -465, 5.8, -460, 6.3, -455, 6.7, -425, 7.1, -380, 7.5, -320, 7.9, -250, 8.3, -185, 8.7, -130, 9.1, -90, 9.35, -95, 9.5, -80, 9.8, -30, 10.0, -12],
  [0, 0, 0.5, -50, 1.0, -113, 1.5, -188, 2.0, -260, 2.5, -345, 2.9, -420, 3.3, -440, 3.8, -445, 4.3, -450, 4.8, -440, 5.3, -430, 5.8, -420, 6.3, -420, 6.8, -425, 7.2, -420, 7.4, -415, 7.8, -350, 8.2, -280, 8.6, -210, 9.0, -140, 9.4, -85, 9.7, -45, 9.9, -15],
];
const deepRates: number[][] = [
  [1.05, 1.0, 1.1, 1.0, 1.0, 1.1, 3.0, 2.2, 1.6, 2.9, 1.5, 1.6, 1.5, 1.7, 1.6, 1.5, 1.6],
  [1.0, 1.1, 1.0, 1.05, 1.0, 1.2, 1.4, 2.6, 1.7, 1.5, 2.0, 1.6, 1.8, 1.7, 2.7, 1.9, 1.8, 2.0, 1.9, 2.8],
  [1.1, 1.0, 1.0, 1.1, 1.0, 1.2, 2.0, 1.5, 2.8, 1.6, 1.9, 1.7, 1.6, 1.8, 1.7, 1.9, 2.0, 1.8, 1.7, 1.0],
  [1.0, 1.0, 1.1, 1.0, 1.1, 1.0, 1.3, 1.6, 3.0, 1.8, 2.2, 1.7, 1.6, 1.8, 1.7, 2.5, 1.9, 1.8, 1.7, 1.6],
  [1.0, 1.1, 1.0, 1.0, 1.1, 1.2, 1.5, 2.9, 1.6, 2.7, 1.7, 1.5, 2.2, 1.4, 1.6, 1.7, 1.6, 1.5, 1.6, 1.5, 1.6],
  [1.0, 1.0, 1.1, 1.0, 1.1, 1.2, 1.1, 1.3, 2.4, 1.6, 2.9, 1.5, 1.7, 2.0, 1.6, 1.8, 1.7, 1.9, 1.8, 1.7],
  [1.0, 1.1, 1.0, 1.1, 1.0, 1.3, 2.1, 1.6, 2.6, 1.7, 1.8, 3.0, 1.5, 1.4, 2.0, 1.7, 1.8, 1.9, 1.7, 1.8, 2.3, 1.9, 1.8],
  [1.1, 1.0, 1.0, 1.1, 1.0, 1.2, 1.5, 2.9, 1.7, 1.6, 2.5, 1.8, 1.4, 1.2, 1.5, 1.7, 1.6, 2.8, 1.9, 1.8, 1.7, 1.9, 2.0, 1.8],
  [1.0, 1.0, 1.1, 1.0, 1.1, 1.2, 1.4, 2.7, 1.6, 1.9, 2.8, 1.5, 1.3, 1.6, 2.1, 1.7, 1.8, 1.6, 1.7, 1.9, 1.8, 1.7, 1.6, 1.5],
  [1.0, 1.1, 1.0, 1.0, 1.1, 1.0, 1.3, 1.8, 2.6, 1.7, 1.5, 2.2, 1.6, 1.2, 1.3, 1.4, 1.6, 1.7, 1.8, 1.6, 1.7, 1.9, 1.8, 1.7, 1.6],
  [1.1, 1.0, 1.0, 1.1, 1.0, 1.2, 1.6, 1.9, 1.5, 2.9, 1.7, 1.6, 2.0, 1.8, 1.5, 1.9, 1.7, 1.8, 2.1, 1.9, 1.8, 2.0, 1.9, 2.0, 1.9],
  [1.0, 1.0, 1.1, 1.0, 1.0, 1.3, 2.9, 1.8, 1.6, 2.3, 1.7, 1.9, 2.1, 1.6, 1.8, 1.7, 1.6, 1.7, 1.9, 2.5, 1.8, 1.7, 1.9, 1.8, 1.9],
  [1.0, 1.1, 1.0, 1.1, 1.0, 1.2, 1.4, 1.5, 2.8, 1.6, 1.7, 1.9, 2.0, 1.8, 2.2, 1.7, 1.6, 1.8, 1.7, 1.8, 1.6, 1.5],
  [1.0, 1.0, 1.1, 1.0, 1.1, 1.3, 1.7, 2.9, 1.5, 2.5, 1.6, 1.9, 1.8, 2.3, 2.7, 1.9, 1.8, 1.7, 1.9, 1.8, 1.7, 1.6, 1.7],
  [1.1, 1.0, 1.0, 1.0, 1.1, 1.2, 1.5, 2.0, 2.9, 1.6, 1.8, 2.4, 1.7, 1.9, 1.6, 1.8, 2.0, 1.9, 2.1, 2.0, 1.9, 2.7, 2.0, 2.1, 1.9],
  [1.0, 1.1, 1.0, 1.0, 1.1, 1.2, 1.4, 1.9, 1.7, 2.8, 1.6, 1.5, 1.3, 1.2, 1.4, 1.5, 1.8, 1.7, 1.8, 1.9, 1.7, 1.8, 1.7, 1.8],
];

// ---------- styling ----------
const AXIS_COLOR = '#3c3c3c';
const TEXT_COLOR = '#1a1a1a';
const SERIF = '"Liberation Serif", "Times New Roman", serif';
const SANS = '"Liberation Sans", Arial, sans-serif';
const Y_AXIS_W = 70;
const X_AXIS_H = 45;
const PAD_TOP = 15;
const PAD_RIGHT = 22;

type Area = { left: number; top: number; width: number; height: number };

const inwardTicks = {
  id: 'inwardTicks',
  beforeDatasetsDraw(chart: any) {
    const { ctx, chartArea: a, scales } = chart;
    ctx.save();
    ctx.strokeStyle = AXIS_COLOR;
    ctx.lineWidth = 1;
    const xs = scales.x;
    (xs.ticks || []).forEach((t: any) => {
      const x = Math.round(xs.getPixelForValue(t.value)) + 0.5;
      ctx.beginPath();
      ctx.moveTo(x, a.bottom);
      ctx.lineTo(x, a.bottom - 5);
      ctx.stroke();
    });
    const ys = scales.y;
    (ys.ticks || []).forEach((t: any) => {
      const y = Math.round(ys.getPixelForValue(t.value)) + 0.5;
      ctx.beginPath();
      ctx.moveTo(a.left, y);
      ctx.lineTo(a.left + 5, y);
      ctx.stroke();
    });
    ctx.restore();
  },
};

function Panel(props: {
  dives: number[][];
  rates: number[][];
  xMax: number;
  xStep: number;
  yMin: number;
  yStep: number;
  showX: boolean;
  area: Area;
}) {
  const ref = useRef<HTMLCanvasElement>(null);
  const { area } = props;
  const W = Y_AXIS_W + area.width + PAD_RIGHT;
  const H = PAD_TOP + area.height + X_AXIS_H;

  useEffect(() => {
    const canvas = ref.current!;
    const datasets = props.dives.map((flat, di) => {
      const pts: { x: number; y: number }[] = [];
      for (let i = 0; i + 1 < flat.length; i += 2) pts.push({ x: flat[i], y: flat[i + 1] });
      const r = props.rates[di] || [2];
      return {
        data: pts,
        borderWidth: 5,
        pointRadius: 0,
        pointHoverRadius: 0,
        fill: false,
        cubicInterpolationMode: 'monotone' as const,
        borderCapStyle: 'butt' as const,
        borderJoinStyle: 'round' as const,
        borderColor: parula(r[0]),
        segment: {
          borderColor: (ctx: any) => parula(r[Math.min(ctx.p0DataIndex, r.length - 1)]),
        },
        clip: 4,
      };
    });
    const font = { family: SERIF, size: 20 };
    const chart = new Chart(canvas, {
      type: 'line',
      data: { datasets },
      options: {
        responsive: false,
        animation: false,
        events: [],
        layout: { padding: { left: 0, right: PAD_RIGHT, top: PAD_TOP, bottom: 0 } },
        plugins: { legend: { display: false }, tooltip: { enabled: false } },
        scales: {
          x: {
            type: 'linear',
            min: 0,
            max: props.xMax,
            grid: { display: false, drawTicks: false },
            border: { display: true, color: AXIS_COLOR, width: 1 },
            ticks: {
              stepSize: props.xStep,
              color: TEXT_COLOR,
              font,
              padding: 15,
              maxRotation: 0,
              autoSkip: false,
              callback: (v: any) => (props.showX ? String(v) : ''),
            },
            afterFit: (s: any) => {
              s.height = X_AXIS_H;
            },
          },
          y: {
            type: 'linear',
            min: props.yMin,
            max: 0,
            grid: { display: false, drawTicks: false },
            border: { display: true, color: AXIS_COLOR, width: 1 },
            ticks: { stepSize: props.yStep, color: TEXT_COLOR, font, padding: 7, autoSkip: false },
            afterFit: (s: any) => {
              s.width = Y_AXIS_W;
            },
          },
        },
      } as any,
      plugins: [inwardTicks],
    });
    const ca = chart.chartArea;
    canvas.style.left = `${area.left - ca.left}px`;
    canvas.style.top = `${area.top - ca.top}px`;
    return () => chart.destroy();
  }, []);

  return (
    <canvas
      ref={ref}
      width={W}
      height={H}
      style={{ position: 'absolute', left: area.left - Y_AXIS_W, top: area.top - PAD_TOP, width: W, height: H }}
    />
  );
}

const CB_AREA: Area = { left: 545, top: 624, width: 312, height: 33 };

const colorbarFill = {
  id: 'colorbarFill',
  beforeDatasetsDraw(chart: any) {
    const { ctx, chartArea: a, scales } = chart;
    ctx.save();
    const g = ctx.createLinearGradient(a.left, 0, a.right, 0);
    PARULA.forEach((c, i) => g.addColorStop(i / (PARULA.length - 1), `rgb(${c[0]},${c[1]},${c[2]})`));
    ctx.fillStyle = g;
    ctx.fillRect(a.left, a.top, a.right - a.left, a.bottom - a.top);
    ctx.strokeStyle = '#4a4a4a';
    ctx.lineWidth = 1;
    ctx.strokeRect(a.left + 0.5, a.top + 0.5, a.right - a.left - 1, a.bottom - a.top - 1);
    const xs = scales.x;
    (xs.ticks || []).forEach((t: any) => {
      const x = Math.round(xs.getPixelForValue(t.value)) + 0.5;
      ctx.beginPath();
      ctx.moveTo(x, a.bottom);
      ctx.lineTo(x, a.bottom - 3);
      ctx.stroke();
    });
    ctx.restore();
  },
};

function Colorbar() {
  const ref = useRef<HTMLCanvasElement>(null);
  const PL = 20;
  const PT = 5;
  const XH = 32;
  const W = PL + CB_AREA.width + 20;
  const H = PT + CB_AREA.height + XH;
  useEffect(() => {
    const canvas = ref.current!;
    const chart = new Chart(canvas, {
      type: 'scatter',
      data: { datasets: [{ data: [] }] },
      options: {
        responsive: false,
        animation: false,
        events: [],
        layout: { padding: { left: PL, right: 20, top: PT, bottom: 0 } },
        plugins: { legend: { display: false }, tooltip: { enabled: false } },
        scales: {
          x: {
            type: 'linear',
            min: colorbarTicks[0],
            max: colorbarTicks[colorbarTicks.length - 1],
            grid: { display: false, drawTicks: false },
            border: { display: false },
            ticks: {
              stepSize: 0.5,
              color: TEXT_COLOR,
              font: { family: SERIF, size: 17 },
              padding: 11,
              maxRotation: 0,
              autoSkip: false,
              callback: (v: any) => String(Number(v)),
            },
            afterFit: (s: any) => {
              s.height = XH;
            },
          },
          y: { display: false, min: 0, max: 1 },
        },
      } as any,
      plugins: [colorbarFill],
    });
    const ca = chart.chartArea;
    canvas.style.left = `${CB_AREA.left - ca.left}px`;
    canvas.style.top = `${CB_AREA.top - ca.top}px`;
    return () => chart.destroy();
  }, []);
  return (
    <canvas
      ref={ref}
      width={W}
      height={H}
      style={{ position: 'absolute', left: CB_AREA.left - PL, top: CB_AREA.top - PT, width: W, height: H }}
    />
  );
}

function Label(props: {
  x: number;
  y: number;
  size: number;
  bold?: boolean;
  rotate?: boolean;
  children: React.ReactNode;
}) {
  return (
    <div
      style={{
        position: 'absolute',
        left: props.x,
        top: props.y,
        transform: `translate(-50%, -50%)${props.rotate ? ' rotate(-90deg)' : ''}`,
        fontFamily: SERIF,
        fontSize: props.size,
        fontWeight: props.bold ? 'bold' : 'normal',
        lineHeight: 1,
        whiteSpace: 'nowrap',
        color: props.bold ? '#000' : TEXT_COLOR,
      }}
    >
      {props.children}
    </div>
  );
}

export default function App() {
  return (
    <div
      style={{
        position: 'fixed',
        left: 0,
        top: 0,
        width: 1357,
        height: 812,
        background: '#fff',
        overflow: 'hidden',
      }}
    >
      <div
        style={{
          position: 'absolute',
          left: 7,
          top: 8,
          width: 1343,
          height: 797,
          borderStyle: 'solid',
          borderColor: '#5a5a5a #8a8a8a #8a8a8a #8a8a8a',
          borderWidth: '2px 2px 2px 2px',
          boxSizing: 'border-box',
        }}
      />
      <Panel dives={shallowDives} rates={shallowRates} xMax={6} xStep={1} yMin={-200} yStep={50} showX={false}
        area={{ left: 193, top: 60, width: 450, height: 187 }} />
      <Panel dives={scatteredDives} rates={scatteredRates} xMax={6} xStep={1} yMin={-200} yStep={50} showX={false}
        area={{ left: 785, top: 60, width: 451, height: 187 }} />
      <Panel dives={midwaterDives} rates={midwaterRates} xMax={10} xStep={2} yMin={-600} yStep={200} showX={true}
        area={{ left: 193, top: 342, width: 450, height: 185 }} />
      <Panel dives={deepDives} rates={deepRates} xMax={10} xStep={2} yMin={-600} yStep={200} showX={true}
        area={{ left: 785, top: 342, width: 451, height: 185 }} />

      <Label x={422} y={37} size={21} bold>Shallow</Label>
      <Label x={1034} y={37} size={21} bold>Scattered Patches</Label>
      <Label x={434} y={306} size={21} bold>Midwater</Label>
      <Label x={1027} y={308} size={21} bold>Deep</Label>

      <Label x={131} y={154} size={23} rotate>Depth (m)</Label>
      <Label x={130} y={433} size={23} rotate>Depth(m)</Label>
      <Label x={418} y={574} size={23}>Time since start diving (min)</Label>
      <Label x={1010} y={574} size={23}>Time since start diving (min)</Label>

      <Colorbar />
      <Label x={701} y={709} size={20}>
        Estimated field metabolic rate (l O<sub style={{ fontSize: 14, verticalAlign: -5, lineHeight: 0 }}>2</sub> min
        <sup style={{ fontSize: 14, verticalAlign: 8, lineHeight: 0 }}>-1</sup>)
      </Label>

      <svg style={{ position: 'absolute', left: 0, top: 735 }} width={1357} height={70}>
        <text x={20} y={28} fontFamily={SANS} fontSize={17} fill="#231f20"
          textLength={1318} lengthAdjust="spacingAndGlyphs">
          <tspan fontWeight="bold">FIGURE 5 |</tspan> Estimated field metabolic rate of Risso’s dolphins in foraging dives performed within the deep-water habitat. Colored lines represent estimates of the field
        </text>
        <text x={20} y={56} fontFamily={SANS} fontSize={17} fill="#231f20"
          textLength={961} lengthAdjust="spacingAndGlyphs">
          metabolic rate as a function of dive time and depth of the dolphin for each dive type, showing maximum estimated value per every 10 s window.
        </text>
      </svg>
    </div>
  );
}
